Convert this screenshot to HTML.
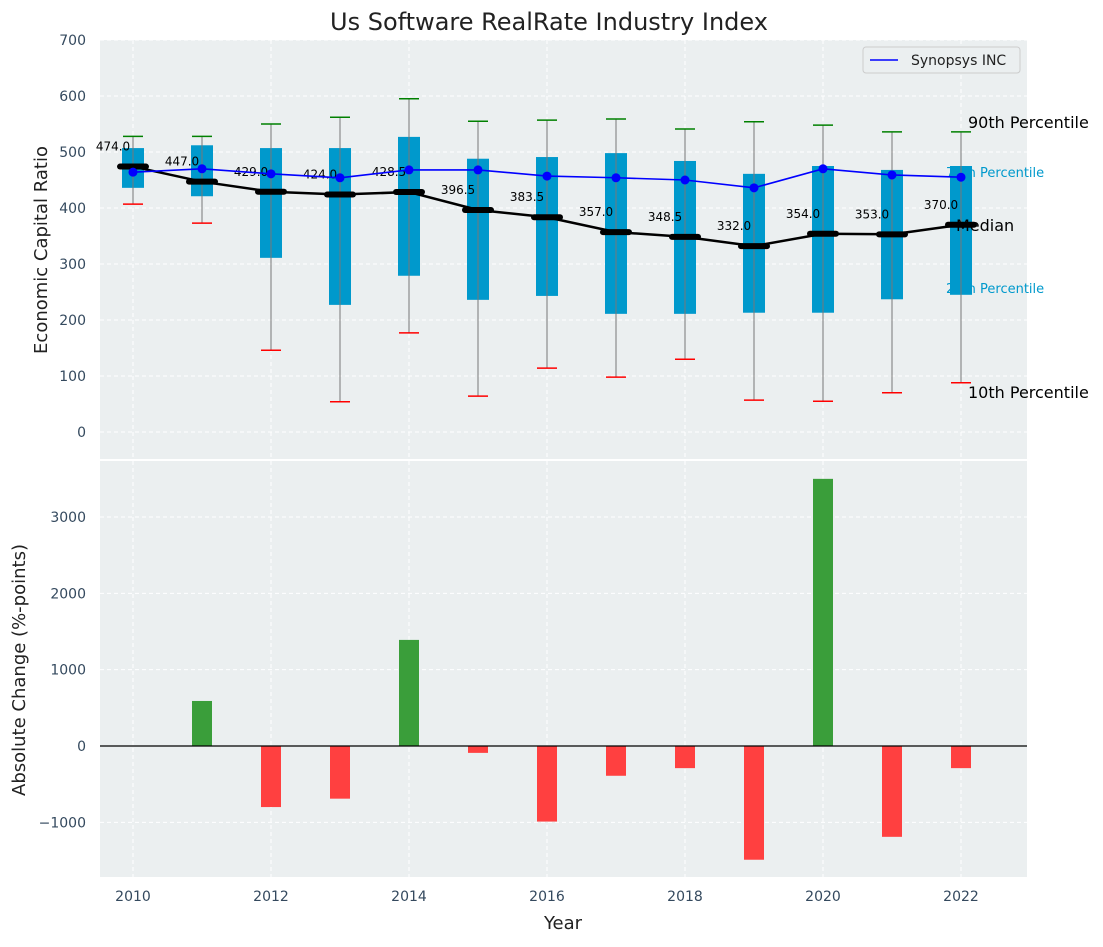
<!DOCTYPE html>
<html><head><meta charset="utf-8"><style>
body{margin:0;background:#fff;font-family:"Liberation Sans","DejaVu Sans",sans-serif}
svg text{font-family:"DejaVu Sans","Liberation Sans",sans-serif}
</style></head><body>
<svg id="c" width="1103" height="942"></svg>
<script>
const years=[2010,2011,2012,2013,2014,2015,2016,2017,2018,2019,2020,2021,2022];
const q1=[436,421,311,227,279,236,243,211,211,213,213,237,245];
const q3=[507,512,507,507,527,488,491,498,484,461,475,468,475];
const med=[474,447,429,424,428.5,396.5,383.5,357,348.5,332,354,353,370];
const p90=[528,528,550,562,595,555,557,559,541,554,548,536,536];
const p10=[407,373,146,54,177,64,114,98,130,57,55,70,88];
const syn=[464,470,461,454,468,468,457,454,450,436,470,459,455];
const change=[0,590,-800,-690,1390,-90,-990,-390,-290,-1490,3500,-1190,-290];
const yTicksTop=[0,100,200,300,400,500,600,700];
const yTicksBot=[-1000,0,1000,2000,3000];
const xTicks=[2010,2012,2014,2016,2018,2020,2022];

const NS="http://www.w3.org/2000/svg",svg=document.getElementById('c');
function el(t,a,p){const e=document.createElementNS(NS,t);for(const k in a)e.setAttribute(k,a[k]);(p||svg).appendChild(e);return e;}
const L=100,R=1027;
const x=v=>133+(v-2010)*69;
const yT=v=>432-v*0.56;
const yB=v=>746-v*0.07633;
let a=el('rect',{x:L,y:40,width:R-L,height:419,fill:'#ebeff0'});

a=el('rect',{x:L,y:461,width:R-L,height:416,fill:'#ebeff0'});

xTicks.forEach(v=>{
 el('line',{x1:x(v),x2:x(v),y1:40,y2:459,stroke:'#fff','stroke-dasharray':'4,3'});
 el('line',{x1:x(v),x2:x(v),y1:461,y2:877,stroke:'#fff','stroke-dasharray':'4,3'});
 let t=el('text',{x:x(v),y:901,'text-anchor':'middle','font-size':14,fill:'#34495e'});t.textContent=v;
 
});
yTicksTop.forEach(v=>{
 el('line',{x1:L,x2:R,y1:yT(v),y2:yT(v),stroke:'#fff','stroke-dasharray':'4,3'});
 let t=el('text',{x:86,y:yT(v)+5,'text-anchor':'end','font-size':14,fill:'#34495e'});t.textContent=v;
 
});
yTicksBot.forEach(v=>{
 el('line',{x1:L,x2:R,y1:yB(v),y2:yB(v),stroke:'#fff','stroke-dasharray':'4,3'});
 let t=el('text',{x:86,y:yB(v)+5,'text-anchor':'end','font-size':14,fill:'#34495e'});t.textContent=v<0?'\u2212'+(-v):v;
 
});
// annotation labels behind boxes
[['90th Percentile',968,128,'#000',16],['75th Percentile',946,177,'#0099cc',13],['25th Percentile',946,293,'#0099cc',13],['10th Percentile',968,398,'#000',16]].forEach(d=>{
 let t=el('text',{x:d[1],y:d[2],'font-size':d[4],fill:d[3]});t.textContent=d[0];
 
});
years.forEach((yr,i)=>{
 const cx=x(yr);
 let g=el('g',{});
 el('rect',{x:cx-11,y:yT(q3[i]),width:22,height:yT(q1[i])-yT(q3[i]),fill:'#0099cc'},g);
 el('line',{x1:cx,x2:cx,y1:yT(p90[i]),y2:yT(p10[i]),stroke:'#777','stroke-width':1},g);
 el('line',{x1:cx-10,x2:cx+10,y1:yT(p90[i]),y2:yT(p90[i]),stroke:'green','stroke-width':1.5},g);
 el('line',{x1:cx-10,x2:cx+10,y1:yT(p10[i]),y2:yT(p10[i]),stroke:'red','stroke-width':1.5},g);
 let t=el('text',{x:cx-20,y:yT(med[i])-16,'text-anchor':'middle','font-size':12,fill:'#000'});t.textContent=med[i].toFixed(1);
 
});
let p=el('polyline',{points:years.map((yr,i)=>x(yr)+','+yT(med[i])).join(' '),fill:'none',stroke:'#000','stroke-width':2.5});

years.forEach((yr,i)=>{let m=el('line',{x1:x(yr)-13,x2:x(yr)+13,y1:yT(med[i]),y2:yT(med[i]),stroke:'#000','stroke-width':6,'stroke-linecap':'round'});
 });
p=el('polyline',{points:years.map((yr,i)=>x(yr)+','+yT(syn[i])).join(' '),fill:'none',stroke:'#0000ff','stroke-width':1.6});

years.forEach((yr,i)=>{let c=el('circle',{cx:x(yr),cy:yT(syn[i]),r:4.5,fill:'#0000ff'});
 });
let mt=el('text',{x:956,y:231,'font-size':16,fill:'#000'});mt.textContent='Median';

let lg=el('g',{});
el('rect',{x:863,y:47,width:157,height:26,fill:'#ebeff0',stroke:'#ccc',rx:3},lg);
el('line',{x1:870,x2:898,y1:60,y2:60,stroke:'#0000ff','stroke-width':1.6},lg);
let lt=el('text',{x:911,y:65,'font-size':14,fill:'#222'},lg);lt.textContent='Synopsys INC';
years.forEach((yr,i)=>{const v=change[i];
 let b=el('rect',{x:x(yr)-10,y:Math.min(yB(v),yB(0)),width:20,height:Math.abs(yB(v)-yB(0)),fill:v>=0?'#3a9e3a':'#ff4040'});
 });
el('line',{x1:L,x2:R,y1:yB(0),y2:yB(0),stroke:'#000','stroke-width':1.2});
let t=el('text',{x:549,y:30,'text-anchor':'middle','font-size':24,fill:'#222'});t.textContent='Us Software RealRate Industry Index';

t=el('text',{x:563,y:929,'text-anchor':'middle','font-size':18,fill:'#222'});t.textContent='Year';

t=el('text',{x:0,y:0,'text-anchor':'middle','font-size':18,fill:'#222',transform:'translate(47,250) rotate(-90)'});t.textContent='Economic Capital Ratio';

t=el('text',{x:0,y:0,'text-anchor':'middle','font-size':18,fill:'#222',transform:'translate(25,670) rotate(-90)'});t.textContent='Absolute Change (%-points)';

</script>
</body></html>
